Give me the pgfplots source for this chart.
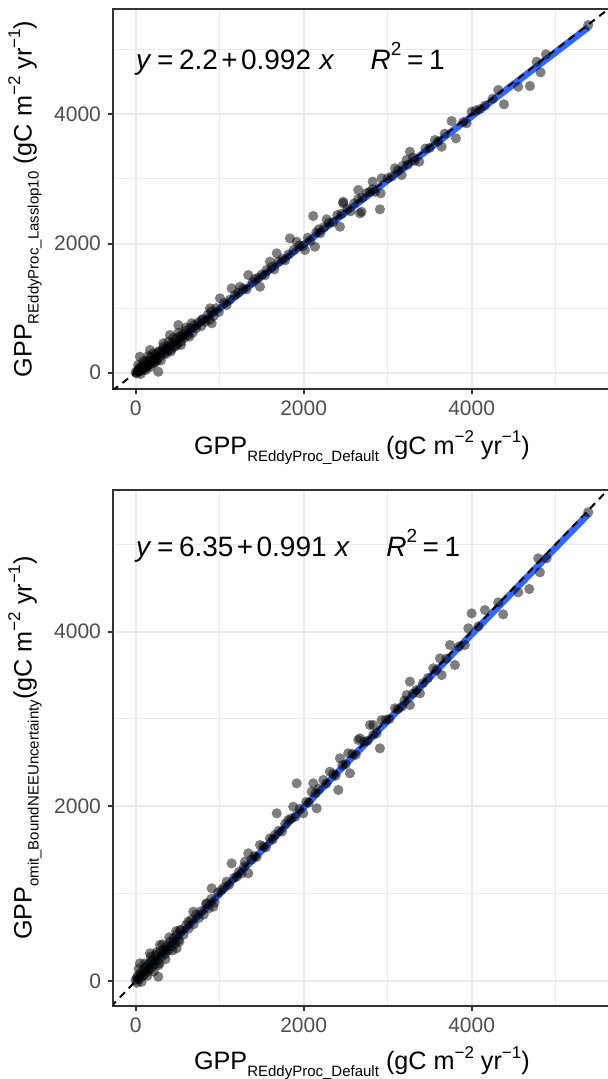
\documentclass[border=0pt]{standalone}
\usepackage{fontspec}
\setmainfont{Liberation Sans}
\usepackage{pgfplots}
\usepackage{pgfplotstable}
\pgfplotsset{compat=1.18}
\definecolor{gridc}{HTML}{EBEBEB}
\definecolor{tickc}{HTML}{4D4D4D}
\definecolor{framec}{HTML}{333333}
\definecolor{smoothc}{HTML}{3366FF}
\newcommand{\sub}[1]{\raisebox{-0.28em}{\fontsize{7.5pt}{8pt}\selectfont #1}}
\newcommand{\sups}[1]{\raisebox{0.45em}{\fontsize{8.5pt}{9pt}\selectfont #1}}
\newcommand{\esup}[1]{\raisebox{0.5em}{\fontsize{9.5pt}{10pt}\selectfont #1}}
\newcommand{\unitlab}{(gC m\sups{−2} yr\sups{−1})}
\newcommand{\eqs}{\hspace{0.2em}}
\newcommand{\pls}{\hspace{0.12em}}
\tikzset{eqn/.style={anchor=base west, inner sep=0, font=\fontsize{14pt}{16pt}\selectfont}}

\pgfplotstableread{
x y
0 5
10 -10
20 30
30 15
40 60
50 20
60 90
70 40
80 110
90 70
100 60
110 150
120 100
130 80
140 190
150 120
160 170
170 130
180 240
190 160
200 210
210 180
220 150
240 280
250 230
260 200
280 320
300 260
320 350
340 300
360 380
380 340
400 420
420 360
440 470
460 400
480 520
500 450
520 560
540 480
560 600
580 540
600 650
620 580
650 690
680 620
700 740
720 690
750 780
780 720
800 830
830 790
860 900
880 820
900 950
930 880
960 1000
990 940
30 120
60 -20
90 180
120 40
150 260
180 90
210 300
240 170
270 330
300 190
330 400
360 290
390 480
420 330
450 540
480 420
510 620
540 430
600 700
640 560
51 248
170 351
269 15
329 455
408 584
548 557
508 738
667 765
786 816
905 765
885 997
1004 1152
1083 1048
1143 1306
1242 1331
1341 1512
1480 1331
1560 1590
1599 1718
1679 1848
1837 2080
1917 2028
2015 1899
2135 1950
2114 2426
2274 2374
2432 2260
2471 2622
2670 2467
2789 2802
2908 2529
1050 1080
1120 1130
1180 1200
1220 1240
1280 1300
1320 1290
1390 1400
1420 1450
1460 1470
1500 1520
1540 1510
1620 1640
1650 1600
1700 1720
1750 1760
1780 1740
1820 1830
1880 1900
1950 1970
1990 1960
2050 2090
2080 2040
2150 2170
2180 2220
2200 2160
2240 2250
2300 2320
2350 2330
2400 2440
2450 2460
2520 2540
2560 2500
2600 2620
2650 2690
2700 2710
2750 2780
2820 2840
2850 2800
2471 2647
2690 2492
2650 2828
2821 2957
2929 3009
2917 2777
3087 3164
3167 3060
3265 3421
3226 3293
3376 3266
3563 3602
3643 3498
3762 3896
3813 3628
3940 3861
4000 4040
4158 4133
4385 4155
4317 4376
4555 4427
4694 4438
4821 4650
4774 4814
4885 4929
5388 5382
3000 3010
3050 3040
3120 3130
3180 3200
3240 3220
3300 3330
3320 3280
3450 3470
3500 3480
3600 3580
3680 3700
3900 3880
4050 4060
4100 4080
4250 4240
}\dataA

\pgfplotstableread{
x y
0 10
15 -20
25 60
40 20
55 90
70 50
85 120
100 70
115 160
130 100
145 190
160 130
175 220
190 150
205 250
220 190
240 300
255 230
270 180
290 330
310 280
330 360
350 310
370 400
390 350
410 450
430 400
450 490
470 430
490 530
510 470
540 580
570 530
600 640
630 600
660 700
690 650
720 760
750 720
780 800
810 760
840 880
870 830
900 940
940 900
980 1010
35 140
70 -10
105 200
140 60
180 280
215 110
250 330
285 200
320 420
355 250
400 500
440 350
480 570
520 450
12 31
51 203
269 49
170 317
289 412
369 355
488 374
527 584
626 679
686 793
845 889
924 851
905 1061
1083 1137
1202 1194
1143 1347
1301 1366
1341 1233
1341 1462
1480 1557
1599 1633
1658 1671
1817 1843
1679 1920
1876 1995
1995 1920
2155 1977
2095 2167
1917 2263
2114 2263
2234 2301
2313 2396
2412 2187
2432 2550
2551 2378
2531 2607
2670 2778
2869 2836
2789 2931
2908 2664
1020 1040
1050 1070
1110 1100
1170 1180
1230 1250
1260 1230
1290 1310
1380 1390
1410 1430
1440 1420
1520 1540
1550 1530
1630 1620
1700 1720
1740 1710
1780 1800
1850 1860
1900 1880
1950 1970
2030 2050
2060 2040
2140 2150
2180 2200
2270 2260
2350 2370
2380 2350
2460 2470
2500 2480
2580 2600
2620 2590
2720 2740
2760 2750
2830 2820
2650 2759
2829 2931
2929 2988
3087 3122
3167 3140
3265 3160
3226 3274
3385 3293
3265 3427
3643 3503
3543 3580
3623 3694
3801 3618
3742 3847
3920 3847
3960 4038
4000 4209
4158 4247
4376 4198
4317 4335
4555 4450
4686 4488
4813 4679
4793 4839
4893 4839
5388 5366
2980 2990
3020 3000
3120 3110
3200 3210
3300 3290
3340 3330
3420 3410
3480 3470
3580 3560
3700 3690
3850 3830
4080 4060
}\dataB

\pgfplotsset{
  gg/.style={
    scale only axis, width=248.9pt,
    xmin=-270, xmax=5657,
    xtick={0,2000,4000}, ytick={0,2000,4000},
    minor xtick={1000,3000,5000}, minor ytick={1000,3000,5000},
    grid=both,
    major grid style={gridc, line width=1pt},
    minor grid style={gridc, line width=0.5pt},
    minor tick length=0pt,
    tick align=outside, major tick length=2.5pt,
    major tick style={framec, line width=1pt},
    tick pos=left,
    axis line style={framec, line width=1pt},
    ticklabel style={font=\fontsize{10.5pt}{12pt}\selectfont, text=tickc},
    label style={font=\fontsize{12.6pt}{14pt}\selectfont},
    scaled ticks=false,
    /pgf/number format/assume math mode=true,
    /pgf/number format/1000 sep={},
    ylabel style={at={(axis description cs:-0.1768,0.5)}, anchor=center},
    xlabel={GPP\sub{REddyProc\_Default} \unitlab},
  },
  pts/.style={only marks, mark=*, mark size=2.55pt,
    mark options={fill=black, fill opacity=0.5, draw=black, draw opacity=0}},
  fitl/.style={smoothc, line width=3.4pt, no marks},
  onel/.style={black, line width=1pt, dash pattern=on 3.6pt off 2.8pt, no marks},
}

\begin{document}
\begin{tikzpicture}
\useasboundingbox (0,0) rectangle (303.5pt,-539.5pt);

\begin{axis}[gg,
  at={(56.5pt,-194.5pt)}, anchor=south west,
  height=190pt, ymin=-252, ymax=5630,
  xlabel style={at={(axis description cs:0.5,0)}, anchor=base, yshift=-32.5pt},
  ylabel={GPP\sub{REddyProc\_Lasslop10} \unitlab},
]
\addplot[pts] table[x=x,y=y] {\dataA};
\addplot[fitl] coordinates {(0,2.2) (5388,5347)};
\addplot[onel] coordinates {(-400,-400) (5800,5800)};
\node[eqn] at (axis cs:0,4690)
  {\textit{y}\eqs=\eqs2.2\pls+\pls0.992\hspace{0.3em}\textit{x}\hspace{1.3em}\textit{R}\esup{2}\eqs=\eqs1};
\end{axis}

\begin{axis}[gg,
  at={(56.5pt,-502.9pt)}, anchor=south west,
  height=257.75pt, ymin=-284, ymax=5618,
  xlabel style={at={(axis description cs:0.5,0)}, anchor=base, yshift=-32pt},
  ylabel={GPP\sub{omit\_BoundNEEUncertainty}\unitlab},
]
\addplot[pts] table[x=x,y=y] {\dataB};
\addplot[fitl] coordinates {(0,6.35) (5388,5346)};
\addplot[onel] coordinates {(-400,-400) (5800,5800)};
\node[eqn] at (axis cs:0,4861)
  {\textit{y}\eqs=\eqs6.35\pls+\pls0.991\hspace{0.3em}\textit{x}\hspace{1.3em}\textit{R}\esup{2}\eqs=\eqs1};
\end{axis}
\end{tikzpicture}
\end{document}
